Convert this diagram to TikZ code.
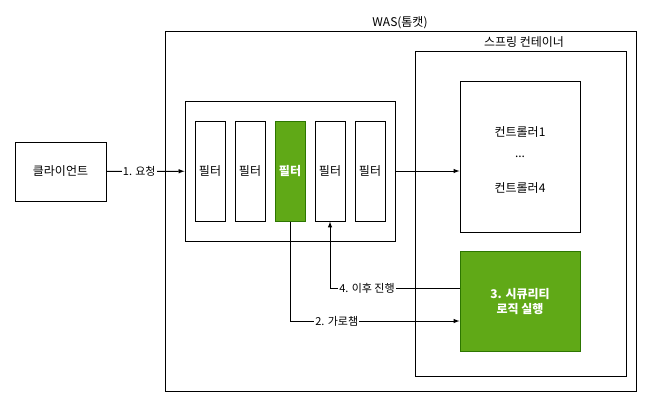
\documentclass[tikz,border=0pt]{standalone}
\usepackage{fontspec}
\setmainfont{Noto Sans CJK KR}
\definecolor{secgreen}{HTML}{60A917}
\definecolor{secline}{HTML}{2D7600}
\tikzstyle{box}=[draw=black, line width=1pt, fill=white, inner sep=0pt, font=\fontsize{12}{14}\selectfont]
\tikzstyle{filterbox}=[box, minimum width=30pt, minimum height=100pt]
\tikzstyle{secbox}=[box, fill=secgreen, draw=secline, text=white, font=\fontsize{12}{15}\selectfont\bfseries, align=center]
\tikzstyle{txt}=[inner sep=1pt, font=\fontsize{12}{14}\selectfont]
\tikzstyle{elabel}=[fill=white, inner sep=1pt, font=\fontsize{11}{13}\selectfont]
\tikzstyle{arr}=[line width=1pt, -latex]

\begin{document}
\begin{tikzpicture}[x=1pt, y=-1pt]
				\useasboundingbox (0,0) rectangle (652,408);
				\node[box, minimum width=471pt, minimum height=360pt] (was) at (400.5,211) {};
				\node[txt] (waslabel) at (400,23) {WAS(톰캣)};
				\node[box, minimum width=211pt, minimum height=325pt] (spring) at (520.5,213.5) {};
				\node[txt] (springlabel) at (524,42) {스프링 컨테이너};
				\node[box, minimum width=91pt, minimum height=59pt] (client) at (60.5,171.5) {클라이언트};
				\node[box, minimum width=210pt, minimum height=140pt] (chain) at (290,171) {};
				\node[filterbox] (f1) at (210,171) {필터};
				\node[filterbox] (f2) at (250,171) {필터};
				\node[filterbox, fill=secgreen, draw=secline, text=white, font=\fontsize{12}{14}\selectfont\bfseries] (f3) at (290,171) {필터};
				\node[filterbox] (f4) at (330,171) {필터};
				\node[filterbox] (f5) at (370,171) {필터};
				\node[box, minimum width=120pt, minimum height=151pt] (ctrl) at (520,156.5) {};
				\node[txt] (c1) at (520,132) {컨트롤러1};
				\node[txt] (cdots) at (520,157) {...};
				\node[txt] (c4) at (520,188) {컨트롤러4};
				\node[secbox, minimum width=120pt, minimum height=100pt] (sec) at (520,301) {3. 시큐리티\\로직 실행};
				\draw[arr] (client) -- node[elabel, pos=0.42] {1. 요청} (chain);
				\draw[arr] (chain.east) -- (chain.east -| ctrl.west);
				\draw[arr] (f3.south) |- node[elabel, pos=0.638] {2. 가로챔} ([yshift=-20pt]sec.west);
				\draw[arr] ([yshift=13pt]sec.west) -| node[elabel, pos=0.357] {4. 이후 진행} (f4.south);
			\end{tikzpicture}
\end{document}
